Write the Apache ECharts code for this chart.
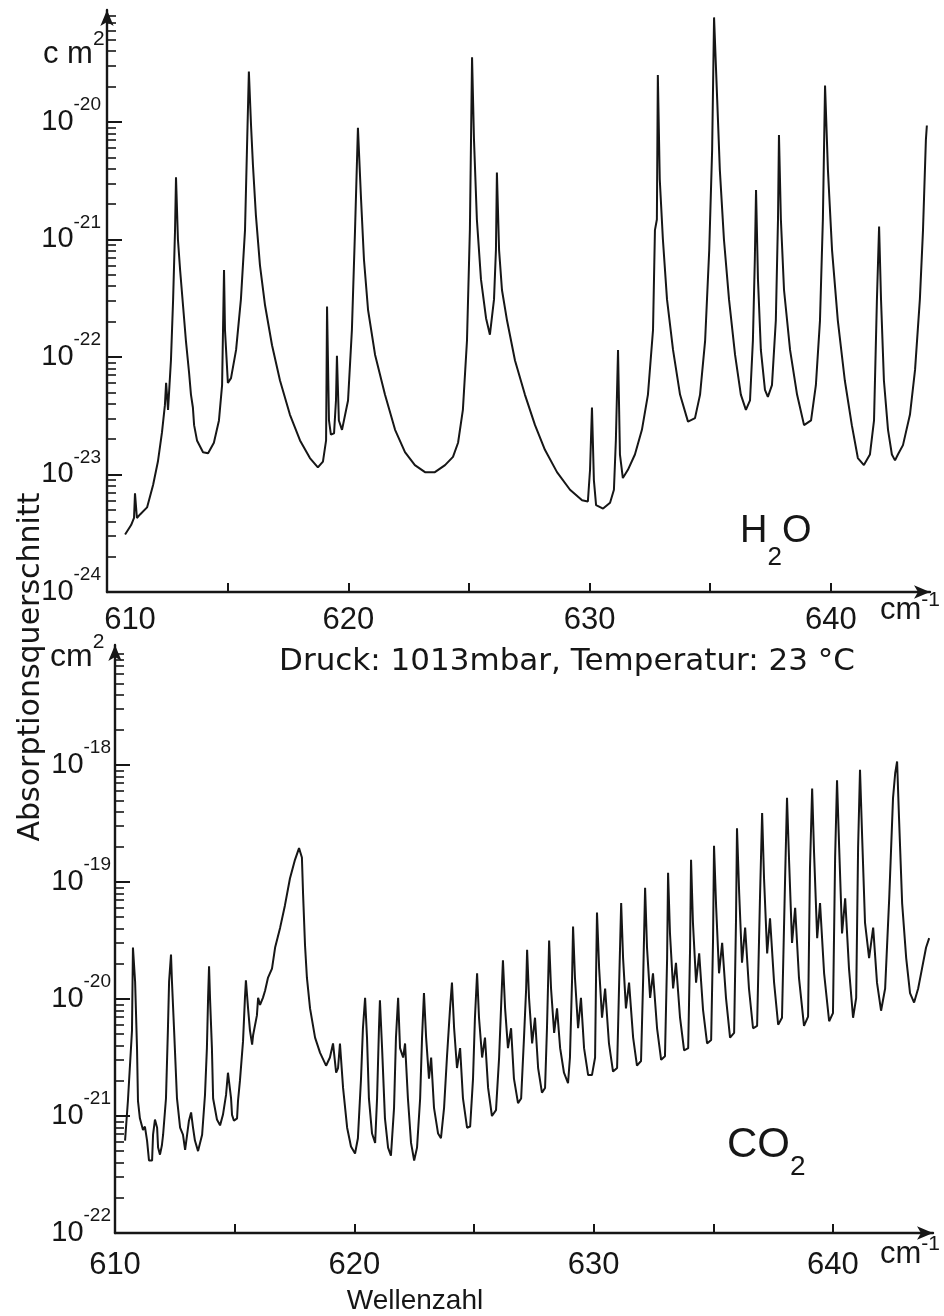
<!DOCTYPE html>
<html><head><meta charset="utf-8">
<script src="https://cdn.jsdelivr.net/npm/echarts@6/dist/echarts.min.js"></script>
<style>html,body{margin:0;padding:0;background:#fff}#c{width:944px;height:1316px}</style>
</head><body><div id="c"></div>
<script>
// wavenumber (cm^-1), log10 of absorption cross-section (cm^2)
const h2oSpectrum = [
[610.75,-23.51],[611.00,-23.43],[611.12,-23.37],[611.16,-23.16],[611.24,-23.37],[611.37,-23.34],[611.66,-23.28],[611.91,-23.09],
[612.11,-22.89],[612.28,-22.64],[612.40,-22.41],[612.45,-22.22],[612.53,-22.45],[612.65,-22.03],[612.74,-21.51],[612.82,-20.92],
[612.86,-20.47],[612.94,-21.00],[613.03,-21.26],[613.15,-21.56],[613.27,-21.86],[613.40,-22.13],[613.48,-22.32],[613.56,-22.43],
[613.61,-22.58],[613.73,-22.71],[613.98,-22.81],[614.19,-22.82],[614.43,-22.73],[614.64,-22.54],[614.77,-22.24],[614.85,-21.26],
[614.89,-21.77],[615.01,-22.22],[615.14,-22.18],[615.35,-21.94],[615.55,-21.51],[615.72,-20.92],[615.80,-20.24],[615.88,-19.57],
[615.97,-20.03],[616.05,-20.37],[616.17,-20.79],[616.34,-21.22],[616.55,-21.56],[616.84,-21.90],[617.17,-22.20],[617.58,-22.49],
[618.00,-22.71],[618.41,-22.86],[618.74,-22.94],[618.95,-22.89],[619.08,-22.71],[619.12,-21.57],[619.20,-22.54],[619.28,-22.66],
[619.41,-22.65],[619.49,-22.37],[619.53,-21.99],[619.61,-22.54],[619.74,-22.62],[619.99,-22.37],[620.15,-21.77],[620.28,-20.92],
[620.40,-20.05],[620.53,-20.66],[620.65,-21.17],[620.82,-21.60],[621.11,-21.98],[621.52,-22.32],[621.94,-22.62],[622.35,-22.81],
[622.76,-22.92],[623.18,-22.98],[623.59,-22.98],[624.01,-22.92],[624.34,-22.85],[624.55,-22.73],[624.75,-22.45],[624.92,-21.86],
[625.04,-20.92],[625.13,-19.45],[625.21,-20.15],[625.33,-20.83],[625.50,-21.34],[625.71,-21.67],[625.87,-21.81],[626.04,-21.51],
[626.12,-21.09],[626.16,-20.43],[626.25,-21.09],[626.37,-21.43],[626.58,-21.69],[626.91,-22.03],[627.32,-22.32],[627.74,-22.58],
[628.15,-22.79],[628.65,-22.98],[629.19,-23.13],[629.69,-23.22],[629.93,-23.23],[630.02,-22.96],[630.10,-22.43],[630.18,-23.05],
[630.27,-23.26],[630.56,-23.29],[630.85,-23.24],[631.01,-23.13],[631.09,-22.71],[631.18,-21.94],[631.26,-22.83],[631.38,-23.03],
[631.59,-22.96],[631.88,-22.83],[632.17,-22.62],[632.42,-22.32],[632.63,-21.77],[632.71,-20.92],[632.79,-20.83],[632.83,-19.60],
[632.91,-20.49],[633.04,-21.00],[633.21,-21.51],[633.46,-21.94],[633.75,-22.32],[634.08,-22.55],[634.37,-22.52],[634.58,-22.32],
[634.79,-21.86],[634.96,-21.09],[635.08,-20.24],[635.16,-19.11],[635.29,-19.81],[635.40,-20.41],[635.57,-21.00],[635.78,-21.51],
[636.03,-21.98],[636.27,-22.32],[636.48,-22.45],[636.65,-22.37],[636.77,-21.86],[636.85,-21.17],[636.90,-20.58],[636.98,-21.34],
[637.10,-21.94],[637.27,-22.28],[637.39,-22.34],[637.56,-22.24],[637.72,-21.69],[637.81,-20.83],[637.85,-20.11],[637.93,-20.83],
[638.06,-21.43],[638.31,-21.94],[638.60,-22.32],[638.89,-22.58],[639.18,-22.54],[639.38,-22.24],[639.55,-21.69],[639.67,-20.83],
[639.76,-19.69],[639.88,-20.41],[640.05,-21.09],[640.29,-21.69],[640.58,-22.20],[640.87,-22.58],[641.12,-22.86],[641.37,-22.92],
[641.62,-22.83],[641.79,-22.54],[641.91,-21.51],[642.00,-20.89],[642.08,-21.51],[642.20,-22.20],[642.37,-22.62],[642.53,-22.83],
[642.66,-22.88],[642.78,-22.83],[642.99,-22.75],[643.28,-22.49],[643.49,-22.11],[643.69,-21.51],[643.82,-20.92],[643.94,-20.15],
[643.98,-20.03]
];
const co2Spectrum = [
[610.42,-21.21],[610.54,-20.87],[610.71,-20.27],[610.75,-19.56],[610.84,-19.85],[610.92,-20.42],[610.96,-20.87],[611.04,-21.02],
[611.17,-21.12],[611.25,-21.09],[611.34,-21.21],[611.42,-21.38],[611.55,-21.38],[611.59,-21.16],[611.67,-21.03],[611.76,-21.10],
[611.80,-21.27],[611.88,-21.33],[611.96,-21.25],[612.01,-21.16],[612.13,-20.85],[612.21,-20.27],[612.26,-19.85],[612.34,-19.62],
[612.38,-19.85],[612.47,-20.27],[612.59,-20.85],[612.72,-21.10],[612.84,-21.16],[612.93,-21.29],[613.01,-21.29],[613.09,-21.04],
[613.18,-20.97],[613.26,-21.10],[613.34,-21.21],[613.47,-21.30],[613.64,-21.16],[613.76,-20.82],[613.84,-20.42],[613.89,-19.99],
[613.93,-19.72],[613.97,-19.99],[614.05,-20.42],[614.10,-20.85],[614.26,-21.03],[614.39,-21.08],[614.51,-20.99],[614.64,-20.82],
[614.72,-20.63],[614.85,-20.85],[614.89,-20.99],[614.97,-21.04],[615.10,-21.02],[615.14,-20.87],[615.22,-20.70],[615.35,-20.36],
[615.43,-19.99],[615.47,-19.84],[615.56,-20.08],[615.64,-20.27],[615.73,-20.39],[615.77,-20.31],[615.93,-20.14],[615.98,-19.99],
[616.06,-20.05],[616.18,-19.99],[616.27,-19.93],[616.39,-19.82],[616.56,-19.74],[616.69,-19.56],[616.90,-19.39],[617.10,-19.20],
[617.31,-18.97],[617.52,-18.81],[617.69,-18.71],[617.81,-18.79],[617.86,-19.11],[617.94,-19.54],[618.02,-19.82],[618.15,-20.08],
[618.36,-20.33],[618.57,-20.46],[618.82,-20.57],[618.98,-20.50],[619.11,-20.38],[619.24,-20.63],[619.32,-20.59],[619.40,-20.38],
[619.53,-20.76],[619.70,-21.10],[619.86,-21.26],[620.03,-21.32],[620.15,-21.19],[620.28,-20.68],[620.36,-20.25],[620.45,-19.99],
[620.53,-20.33],[620.61,-20.85],[620.74,-21.15],[620.87,-21.23],[620.95,-20.85],[621.03,-20.25],[621.07,-20.01],[621.16,-20.42],
[621.28,-21.02],[621.41,-21.27],[621.53,-21.34],[621.66,-20.93],[621.74,-20.33],[621.83,-19.99],[621.91,-20.42],[622.04,-20.50],
[622.12,-20.38],[622.24,-20.85],[622.37,-21.23],[622.50,-21.38],[622.62,-21.27],[622.75,-20.85],[622.83,-20.33],[622.91,-19.95],
[623.00,-20.33],[623.12,-20.68],[623.21,-20.50],[623.33,-20.93],[623.50,-21.15],[623.62,-21.19],[623.75,-20.93],[623.87,-20.50],
[624.00,-20.08],[624.08,-19.86],[624.17,-20.25],[624.29,-20.59],[624.42,-20.42],[624.54,-20.85],[624.71,-21.10],[624.84,-21.09],
[624.96,-20.68],[625.04,-20.16],[625.13,-19.78],[625.21,-20.16],[625.34,-20.50],[625.46,-20.33],[625.59,-20.76],[625.75,-21.00],
[625.92,-20.95],[626.05,-20.50],[626.13,-20.08],[626.21,-19.67],[626.30,-20.08],[626.42,-20.42],[626.55,-20.25],[626.67,-20.68],
[626.84,-20.89],[626.97,-20.85],[627.09,-20.33],[627.18,-19.91],[627.22,-19.58],[627.30,-19.99],[627.43,-20.38],[627.55,-20.16],
[627.68,-20.59],[627.84,-20.80],[627.97,-20.76],[628.05,-20.25],[628.14,-19.50],[628.22,-19.91],[628.35,-20.29],[628.47,-20.08],
[628.60,-20.42],[628.76,-20.63],[628.93,-20.72],[629.01,-20.50],[629.10,-19.82],[629.14,-19.38],[629.22,-19.82],[629.35,-20.25],
[629.47,-19.99],[629.60,-20.42],[629.77,-20.65],[629.93,-20.65],[630.06,-20.50],[630.10,-19.82],[630.14,-19.26],[630.23,-19.74],
[630.35,-20.16],[630.48,-19.91],[630.64,-20.38],[630.81,-20.62],[630.98,-20.59],[631.06,-19.91],[631.15,-19.18],[631.23,-19.65],
[631.35,-20.08],[631.48,-19.86],[631.65,-20.33],[631.81,-20.57],[631.98,-20.53],[632.07,-19.82],[632.15,-19.05],[632.23,-19.56],
[632.36,-19.99],[632.48,-19.78],[632.65,-20.25],[632.82,-20.52],[632.98,-20.49],[633.07,-19.65],[633.11,-18.92],[633.19,-19.44],
[633.32,-19.91],[633.44,-19.69],[633.61,-20.16],[633.78,-20.44],[633.95,-20.42],[634.03,-19.56],[634.07,-18.81],[634.15,-19.35],
[634.28,-19.86],[634.41,-19.61],[634.57,-20.09],[634.74,-20.38],[634.91,-20.35],[634.99,-19.48],[635.03,-18.69],[635.12,-19.22],
[635.24,-19.78],[635.37,-19.52],[635.53,-19.99],[635.70,-20.33],[635.87,-20.29],[635.95,-19.31],[635.99,-18.54],[636.08,-19.09],
[636.20,-19.69],[636.33,-19.39],[636.49,-19.91],[636.66,-20.25],[636.83,-20.23],[636.95,-19.14],[637.04,-18.41],[637.12,-18.97],
[637.25,-19.61],[637.37,-19.31],[637.54,-19.86],[637.71,-20.22],[637.87,-20.16],[638.00,-18.97],[638.08,-18.28],[638.17,-18.84],
[638.29,-19.52],[638.42,-19.22],[638.58,-19.82],[638.79,-20.23],[638.96,-20.15],[639.04,-18.88],[639.13,-18.20],[639.21,-18.75],
[639.34,-19.48],[639.46,-19.18],[639.63,-19.78],[639.84,-20.19],[640.00,-20.12],[640.09,-18.79],[640.17,-18.13],[640.26,-18.71],
[640.38,-19.44],[640.51,-19.14],[640.67,-19.74],[640.84,-20.16],[640.97,-19.99],[641.05,-18.71],[641.13,-18.04],[641.22,-18.62],
[641.34,-19.35],[641.51,-19.65],[641.68,-19.39],[641.84,-19.86],[642.01,-20.10],[642.18,-19.91],[642.35,-19.14],[642.51,-18.28],
[642.60,-18.07],[642.68,-17.97],[642.76,-18.45],[642.89,-19.18],[643.06,-19.65],[643.22,-19.95],[643.39,-20.03],[643.56,-19.91],
[643.72,-19.74],[643.89,-19.56],[644.02,-19.48]
];
const xTickValues = [610, 615, 620, 625, 630, 635, 640];
const xLabelValues = [610, 620, 630, 640];
const h2oDecades = [-24, -23, -22, -21, -20];
const co2Decades = [-22, -21, -20, -19, -18];
const h2oLogRange = [-24, -19.047];
const co2LogRange = [-22, -16.974];

const FONT = 'Liberation Sans';
const FONT2 = 'DejaVu Sans';
const INK = '#161616';

function minorTicks(range) {
  const out = [];
  for (let d = Math.floor(range[0]); d < range[1]; d++) {
    for (let k = 2; k <= 9; k++) {
      const v = d + Math.log10(k);
      if (v > range[0] && v < range[1] - 0.02) out.push(v);
    }
  }
  return out;
}
const toData = arr => arr.map(p => [p[0], Math.pow(10, p[1])]);

const yLabelRich = {
  b: { fontSize: 29, fontFamily: FONT, color: INK, verticalAlign: 'bottom' },
  s: { fontSize: 19, fontFamily: FONT, color: INK, padding: [0, 0, 22, 0], verticalAlign: 'bottom' }
};

function makeX(gridIndex, max, margin, shiftFirst) {
  return {
    type: 'value', gridIndex, min: 610, max, position: 'bottom',
    axisLine: { show: true, symbol: ['none', 'arrow'], symbolSize: [10, 16], lineStyle: { color: INK, width: 2.4 } },
    axisTick: { show: true, inside: true, length: 9, customValues: xTickValues, lineStyle: { color: INK, width: 2 } },
    axisLabel: { show: true, customValues: xLabelValues, margin, fontSize: 31, fontFamily: FONT, color: INK,
      formatter: v => (shiftFirst && v === 610) ? '{f|' + v + '}' : String(v),
      rich: { f: { fontSize: 31, fontFamily: FONT, color: INK, padding: [0, 0, 0, 46] } } },
    splitLine: { show: false }
  };
}
function makeY(gridIndex, range, decades, labelMargin) {
  return [
    { type: 'log', logBase: 10, gridIndex, position: 'left', min: Math.pow(10, range[0]), max: Math.pow(10, range[1]),
      axisLine: { show: true, symbol: ['none', 'arrow'], symbolSize: [10, 16], lineStyle: { color: INK, width: 2.4 } },
      axisTick: { show: false }, axisLabel: { show: false }, splitLine: { show: false } },
    { type: 'value', gridIndex, position: 'left', offset: 0, min: range[0], max: range[1],
      axisLine: { show: false },
      axisTick: { show: true, inside: true, length: 15, customValues: decades, lineStyle: { color: INK, width: 2 } },
      axisLabel: { show: true, customValues: decades, margin: labelMargin, padding: [0, 0, 12, 0],
        formatter: v => '{b|10}{s|' + Math.round(v) + '}', rich: yLabelRich },
      splitLine: { show: false } },
    { type: 'value', gridIndex, position: 'left', offset: 0, min: range[0], max: range[1],
      axisLine: { show: false },
      axisTick: { show: true, inside: true, length: 9, customValues: minorTicks(range), lineStyle: { color: INK, width: 1.6 } },
      axisLabel: { show: false }, splitLine: { show: false } }
  ];
}

function txt(text, x, y, style, el) {
  return Object.assign({ type: 'text', x, y, silent: true,
    style: Object.assign({ text, fill: INK, fontFamily: FONT, fontSize: 30, align: 'left', verticalAlign: 'top' }, style || {}) },
    el || {});
}
const supRich = (big, small, pad) => ({
  a: { fontSize: big, fontFamily: FONT, fill: INK, verticalAlign: 'bottom' },
  s: { fontSize: small, fontFamily: FONT, fill: INK, padding: [0, 0, pad, 0], verticalAlign: 'bottom' }
});
const subRich = (big, small, pad) => ({
  a: { fontSize: big, fontFamily: FONT, fill: INK, verticalAlign: 'top' },
  s: { fontSize: small, fontFamily: FONT, fill: INK, padding: [pad, 0, 0, 0], verticalAlign: 'top' }
});

const option = {
  backgroundColor: '#ffffff',
  animation: false,
  grid: [
    { left: 107, top: 10, width: 823, height: 582, containLabel: false, outerBoundsMode: 'none' },
    { left: 115, top: 645, width: 818, height: 588, containLabel: false, outerBoundsMode: 'none' }
  ],
  xAxis: [makeX(0, 644.11, 13, true), makeX(1, 644.18, 17, false)],
  yAxis: [].concat(makeY(0, h2oLogRange, h2oDecades, 6), makeY(1, co2LogRange, co2Decades, 4)),
  series: [
    { name: 'H2O', type: 'line', xAxisIndex: 0, yAxisIndex: 0, data: toData(h2oSpectrum), showSymbol: false,
      lineStyle: { color: INK, width: 2 } },
    { name: 'CO2', type: 'line', xAxisIndex: 1, yAxisIndex: 3, data: toData(co2Spectrum), showSymbol: false,
      lineStyle: { color: INK, width: 2 } }
  ],
  graphic: [
    txt('{a|c m}{s|2}', 43, 29, { rich: supRich(31, 21, 20) }),
    txt('{a|cm}{s|2}', 50, 632, { rich: supRich(32, 21, 20) }),
    txt('{a|cm}{s|-1}', 880, 590, { rich: supRich(31, 21, 15) }),
    txt('{a|cm}{s|-1}', 880, 1234, { rich: supRich(31, 21, 15) }),
    txt('Absorptionsquerschnitt', 31, 667, { align: 'center', verticalAlign: 'middle', fontFamily: FONT2, fontSize: 30 }, { rotation: Math.PI / 2 }),
    txt('Druck: 1013mbar, Temperatur: 23 °C', 567, 662, { align: 'center', verticalAlign: 'middle', fontFamily: FONT2, fontSize: 31 }),
    txt('{a|H}{s|2}{a|O}', 740, 513, { rich: subRich(38, 26, 32) }),
    txt('{a|CO}{s|2}', 727, 1124, { rich: subRich(42, 28, 29) }),
    txt('Wellenzahl', 415, 1301, { align: 'center', verticalAlign: 'middle', fontSize: 28 })
  ]
};
echarts.init(document.getElementById('c'), null, { renderer: 'canvas' }).setOption(option);
</script>
</body></html>
